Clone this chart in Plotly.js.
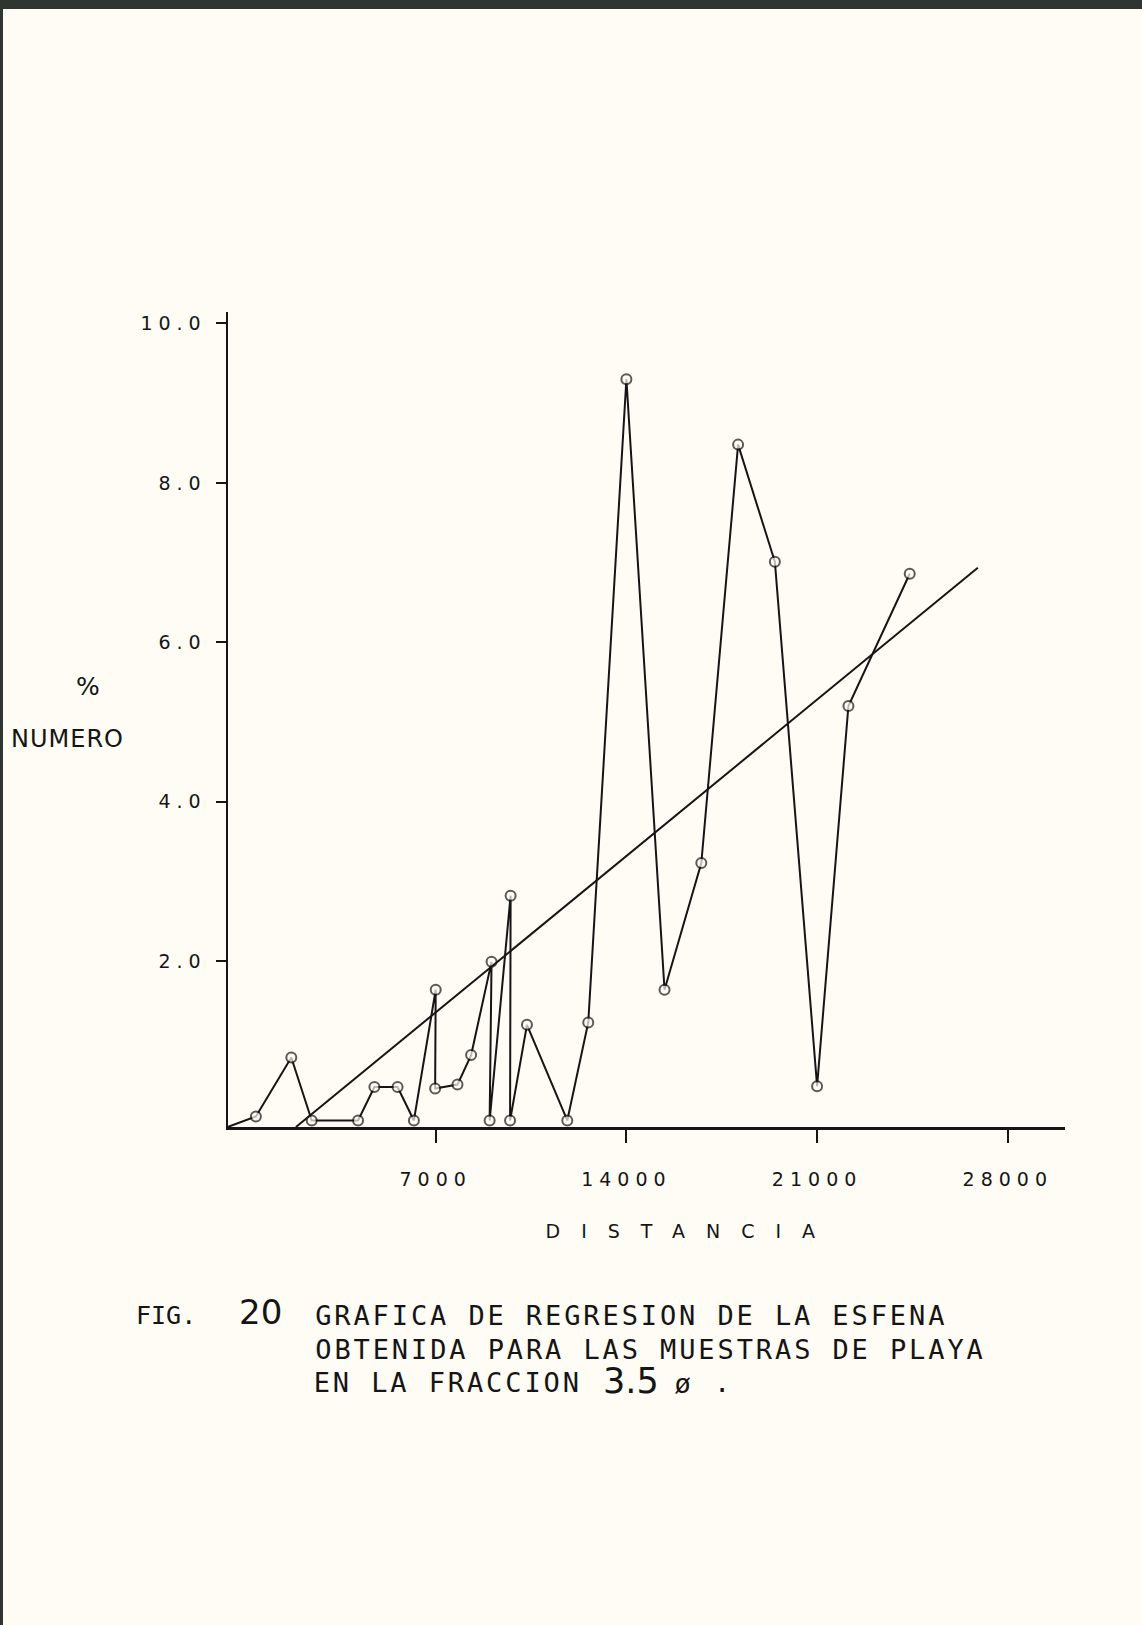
<!DOCTYPE html>
<html>
<head>
<meta charset="utf-8">
<script src="https://cdn.plot.ly/plotly-3.0.1.min.js"></script>
<style>
  html, body { margin: 0; padding: 0; background: #fefcf4; }
  #chart { width: 1142px; height: 1625px; }
  .xtick text { letter-spacing: 6px; }
  .ytick text { letter-spacing: 6px; }
  g.annotation[data-index="1"] text { letter-spacing: 1px; }
  g.annotation[data-index="4"] text,
  g.annotation[data-index="5"] text,
  g.annotation[data-index="6"] text,
  g.annotation[data-index="7"] text { letter-spacing: 2.9px; }
  g.annotation[data-index="9"] text { letter-spacing: 21px; }
</style>
</head>
<body>
<div id="chart"></div>
<script>
// ---- data ----
const distancia = [-620, 400, 1700, 2450, 4150, 4750, 5600, 6200, 7000, 6980, 7800, 8300,
                   9050, 8980, 9750, 9730, 10350, 11830, 12600, 14000, 15400, 16750,
                   18100, 19450, 21000, 22150, 24400];
const porcentaje = [-0.08, 0.05, 0.79, 0.0, 0.0, 0.42, 0.42, 0.0, 1.64, 0.40, 0.45, 0.82,
                    1.99, 0.0, 2.82, 0.0, 1.20, 0.0, 1.23, 9.30, 1.64, 3.23,
                    8.48, 7.01, 0.43, 5.20, 6.86];
const regIntercept = [-0.606];
const regSlope = [0.0002803];
const regX = [1870, 26900];
const xTickVals = [7000, 14000, 21000, 28000];
const xTickText = ['7000', '14000', '21000', '28000'];
const yTickVals = [2, 4, 6, 8, 10];
const yTickText = ['2.0', '4.0', '6.0', '8.0', '10.0'];

const regY = regX.map(x => regIntercept[0] + regSlope[0] * x);
const markerSizes = distancia.map((_, i) => (i === 0 ? 0 : 10));

// ---- layout geometry (pixels) ----
const W = 1142, H = 1625;
const L = 228, R = 1065, T = 312, B = 1127;
const px = p => (p - L) / (R - L);
const py = p => (B - p) / (B - T);

const ink = '#151515';
const sans = 'DejaVu Sans, sans-serif';
const mono = 'DejaVu Sans Mono, monospace';

const traces = [
  {
    x: distancia, y: porcentaje, type: 'scatter', mode: 'lines+markers',
    line: { color: ink, width: 2 },
    marker: { symbol: 'circle', size: markerSizes, color: '#fefcf4', line: { width: 2, color: ink } },
    cliponaxis: false, hoverinfo: 'skip', showlegend: false
  },
  {
    x: regX, y: regY, type: 'scatter', mode: 'lines',
    line: { color: ink, width: 2 }, cliponaxis: false, hoverinfo: 'skip', showlegend: false
  }
];

const annotations = [
  { text: '%', x: px(88), y: py(686), font: { family: sans, size: 25, color: ink } },
  { text: 'NUMERO', x: px(67), y: py(739), font: { family: sans, size: 24, color: ink } },
  { text: 'FIG.', x: px(166), y: py(1315), font: { family: mono, size: 25, color: ink } },
  { text: '20', x: px(260), y: py(1312), font: { family: sans, size: 34, color: ink } },
  { text: 'GRAFICA DE REGRESION DE LA ESFENA', x: px(631), y: py(1315), font: { family: mono, size: 27, color: ink } },
  { text: 'OBTENIDA PARA LAS MUESTRAS DE PLAYA', x: px(650), y: py(1349), font: { family: mono, size: 27, color: ink } },
  { text: 'EN LA FRACCION', x: px(448), y: py(1382), font: { family: mono, size: 27, color: ink } },
  { text: 'ø', x: px(684), y: py(1383), font: { family: mono, size: 27, color: ink } },
  { text: '3.5', x: px(631), y: py(1381), font: { family: sans, size: 35, color: ink } },
  { text: 'DISTANCIA', x: px(691), y: py(1231), font: { family: sans, size: 19, color: ink } },
  { text: '.', x: px(722), y: py(1382), font: { family: mono, size: 27, color: ink } }
].map(a => Object.assign({ xref: 'paper', yref: 'paper', showarrow: false, xanchor: 'center', yanchor: 'middle' }, a));

const shapes = [
  { type: 'rect', xref: 'paper', yref: 'paper', x0: px(0), x1: px(W), y0: py(0), y1: py(9),
    fillcolor: '#2f3530', line: { width: 0 }, layer: 'below' },
  { type: 'rect', xref: 'paper', yref: 'paper', x0: px(0), x1: px(3), y0: py(0), y1: py(H),
    fillcolor: '#2f3530', line: { width: 0 }, layer: 'below' }
];

const layout = {
  width: W, height: H,
  margin: { l: L, r: W - R, t: T, b: H - B, pad: 0 },
  paper_bgcolor: '#fefcf4', plot_bgcolor: '#fefcf4',
  showlegend: false,
  xaxis: {
    range: [-624, 30100], showgrid: false, zeroline: false,
    showline: true, linecolor: ink, linewidth: 2.5,
    ticks: 'outside', ticklen: 13, tickwidth: 2, tickcolor: ink,
    tickvals: xTickVals, ticktext: xTickText, ticklabelstandoff: 21,
    tickfont: { family: sans, size: 19, color: ink }
  },
  yaxis: {
    range: [-0.082, 10.144], showgrid: false, zeroline: false,
    showline: true, linecolor: ink, linewidth: 2.5,
    ticks: 'outside', ticklen: 10, tickwidth: 2, tickcolor: ink,
    tickvals: yTickVals, ticktext: yTickText, ticklabelstandoff: 5,
    tickfont: { family: sans, size: 19, color: ink }
  },
  annotations: annotations,
  shapes: shapes
};

Plotly.newPlot('chart', traces, layout, { staticPlot: true, displayModeBar: false });
</script>
</body>
</html>
